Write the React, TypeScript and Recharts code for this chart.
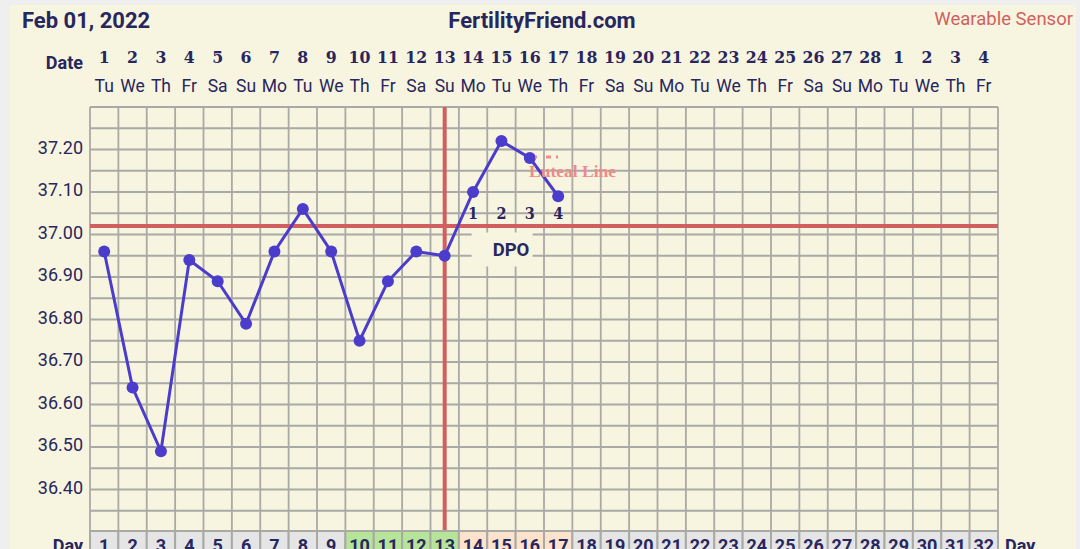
import { CartesianGrid, ComposedChart, Line, ReferenceArea, ReferenceDot, ReferenceLine, XAxis, YAxis } from 'recharts'

// chart values
const DATE_LABELS = ['1', '2', '3', '4', '5', '6', '7', '8', '9', '10', '11', '12', '13', '14', '15', '16', '17', '18', '19', '20', '21', '22', '23', '24', '25', '26', '27', '28', '1', '2', '3', '4']
const WEEKDAYS = ['Tu', 'We', 'Th', 'Fr', 'Sa', 'Su', 'Mo', 'Tu', 'We', 'Th', 'Fr', 'Sa', 'Su', 'Mo', 'Tu', 'We', 'Th', 'Fr', 'Sa', 'Su', 'Mo', 'Tu', 'We', 'Th', 'Fr', 'Sa', 'Su', 'Mo', 'Tu', 'We', 'Th', 'Fr']
const TEMPS = [36.96, 36.64, 36.49, 36.94, 36.89, 36.79, 36.96, 37.06, 36.96, 36.75, 36.89, 36.96, 36.95, 37.10, 37.22, 37.18, 37.09]
const FERTILE_DAYS = [10, 11, 12, 13]
const LUTEAL_DAYS = [14, 15, 16, 17]
const DPO_LABELS = ['1', '2', '3', '4']
const Y_LABELS = [36.4, 36.5, 36.6, 36.7, 36.8, 36.9, 37.0, 37.1, 37.2]
const CYCLE_LENGTH = 32
const OVULATION_DAY = 13
const COVERLINE = 37.02

const NAVY = '#28265e'
const RED = '#d25f5f'
const BLUE = '#4b3ccb'
const GRID = '#a9a9a6'
const BG = '#f7f5df'
const SANS = 'Roboto, sans-serif'
const SERIF = "'Liberation Serif', serif"
const SLAB = "'DejaVu Serif Condensed', 'DejaVu Serif', serif"

const W = 1080
const H = 549
const LEFT_W = 90
const RIGHT_W = 82
const CELL = (W - LEFT_W - RIGHT_W) / CYCLE_LENGTH

const days = DATE_LABELS.map((_, i) => i + 1)
const data = days.map((d, i) => ({ day: d, temp: i < TEMPS.length ? TEMPS[i] : null }))
const gridX = [...days.map((d) => d - 0.5), CYCLE_LENGTH + 0.5]
const yTicks = Array.from({ length: 21 }, (_, i) => Math.round((36.3 + i * 0.05) * 100) / 100)

const DateTick = (props: any) => {
  const { x, payload } = props
  const i = payload.value - 1
  return (
    <g>
      <text x={x} y={63} textAnchor="middle" fontFamily={SLAB} fontStretch="condensed" fontWeight={700} fontSize={17.5} fill={NAVY}>
        {DATE_LABELS[i]}
      </text>
      <text x={x} y={92} textAnchor="middle" fontFamily={SANS} fontSize={17.5} fill={NAVY}>
        {WEEKDAYS[i]}
      </text>
    </g>
  )
}

const DayTick = (props: any) => {
  const { x, payload } = props
  const d = payload.value
  const fill = FERTILE_DAYS.includes(d) ? '#b6e59a' : LUTEAL_DAYS.includes(d) ? '#fde3cb' : '#e5e5e5'
  return (
    <g>
      <rect x={x - CELL / 2} y={531} width={CELL} height={26} fill={fill} stroke={GRID} strokeWidth={2} />
      <text x={x} y={552} textAnchor="middle" fontFamily={SANS} fontWeight={700} fontSize={18} fill={NAVY}>
        {d}
      </text>
    </g>
  )
}

const NoTick = () => <g />

const makeYTick = (side: 'left' | 'right') => (props: any) => {
  const { y, payload } = props
  const v = payload.value
  if (!Y_LABELS.some((l) => Math.abs(l - v) < 1e-6)) return <g />
  return (
    <text
      x={side === 'left' ? 83 : 1005}
      y={y + 4}
      textAnchor={side === 'left' ? 'end' : 'start'}
      fontFamily={SANS}
      fontSize={18}
      fill={NAVY}
    >
      {v.toFixed(2)}
    </text>
  )
}

// vertical grid lines at the day boundaries, through the x scale
const dayBoundaries = (args: any) => {
  const { xAxis, offset } = args
  if (xAxis && typeof xAxis.scale === 'function') return gridX.map((v) => xAxis.scale(v))
  return gridX.map((v) => offset.left + ((v - 0.5) * offset.width) / CYCLE_LENGTH)
}

export default function App() {
  return (
    <div style={{ position: 'absolute', left: 0, top: 0, width: W, height: H, background: '#efefef', overflow: 'hidden' }}>
      <div style={{ position: 'absolute', left: 10, top: 5, width: 1066, height: 544, background: BG }} />
      <div style={{ position: 'absolute', left: 0, top: 0 }}>
        <ComposedChart width={W} height={H} data={data} margin={{ top: 0, right: 0, bottom: 0, left: 0 }}>
          <CartesianGrid xAxisId="grid" yAxisId="left" stroke={GRID} strokeWidth={1.8} verticalCoordinatesGenerator={dayBoundaries} />
          <XAxis xAxisId="grid" dataKey="day" type="number" domain={[0.5, CYCLE_LENGTH + 0.5]} ticks={gridX} interval={0} height={0} tick={<NoTick />} axisLine={false} tickLine={false} />
          <XAxis xAxisId="date" dataKey="day" type="number" orientation="top" domain={[0.5, CYCLE_LENGTH + 0.5]} ticks={days} interval={0} height={107} tick={<DateTick />} axisLine={false} tickLine={false} />
          <XAxis xAxisId="cells" dataKey="day" type="number" domain={[0.5, CYCLE_LENGTH + 0.5]} ticks={days} interval={0} height={17} tick={<DayTick />} axisLine={false} tickLine={false} />
          <YAxis yAxisId="left" type="number" domain={[36.3, 37.3]} ticks={yTicks} interval={0} width={LEFT_W} tick={makeYTick('left')} axisLine={false} tickLine={false} />
          <YAxis yAxisId="right" orientation="right" type="number" domain={[36.3, 37.3]} ticks={yTicks} interval={0} width={RIGHT_W} tick={makeYTick('right')} axisLine={false} tickLine={false} />
          <ReferenceArea
            xAxisId="grid"
            yAxisId="left"
            x1={13.95}
            x2={16.1}
            y1={36.925}
            y2={37.005}
            fill={BG}
            fillOpacity={1}
            stroke="none"
            label={{ value: 'DPO', position: 'insideLeft', offset: 21, fill: NAVY, fontFamily: SANS, fontWeight: 700, fontSize: 18.5 }}
          />
          <ReferenceLine xAxisId="grid" yAxisId="left" y={COVERLINE} stroke={RED} strokeWidth={4} />
          <ReferenceLine xAxisId="grid" yAxisId="left" x={OVULATION_DAY} stroke={RED} strokeWidth={4} />
          <Line
            xAxisId="grid"
            yAxisId="left"
            dataKey="temp"
            stroke={BLUE}
            strokeWidth={3}
            dot={{ r: 6, fill: BLUE, stroke: BLUE, strokeWidth: 0 }}
            activeDot={false}
            isAnimationActive={false}
          />
          {LUTEAL_DAYS.map((d, i) => (
            <ReferenceDot
              key={d}
              xAxisId="grid"
              yAxisId="left"
              x={d}
              y={37.05}
              r={0}
              fill="none"
              stroke="none"
              label={{ value: DPO_LABELS[i], position: 'center', fill: NAVY, fontFamily: SLAB, fontStretch: 'condensed', fontWeight: 700, fontSize: 16 }}
            />
          ))}
        </ComposedChart>
      </div>
      <svg width={W} height={H} style={{ position: 'absolute', left: 0, top: 0, pointerEvents: 'none' }}>
        <text x={22} y={28} fontFamily={SANS} fontWeight={700} fontSize={22} fill={NAVY}>Feb 01, 2022</text>
        <text x={542} y={28} textAnchor="middle" fontFamily={SANS} fontWeight={700} fontSize={22} fill={NAVY}>FertilityFriend.com</text>
        <text x={1073} y={25} textAnchor="end" fontFamily={SANS} fontSize={18.5} fill={RED}>Wearable Sensor</text>
        <text x={83} y={69} textAnchor="end" fontFamily={SANS} fontWeight={700} fontSize={18} fill={NAVY}>Date</text>
        <text x={83} y={552} textAnchor="end" fontFamily={SANS} fontWeight={700} fontSize={18} fill={NAVY}>Day</text>
        <text x={1005} y={552} fontFamily={SANS} fontWeight={700} fontSize={18} fill={NAVY}>Day</text>
        <line x1={535} x2={558} y1={157} y2={157} stroke="#ef8a8a" strokeWidth={3} strokeDasharray="2 9 5 5 2" />
        <text x={529} y={177} fontFamily={SERIF} fontWeight={700} fontSize={17.5} fill="#ef8a8a">Luteal Line</text>
      </svg>
    </div>
  )
}
